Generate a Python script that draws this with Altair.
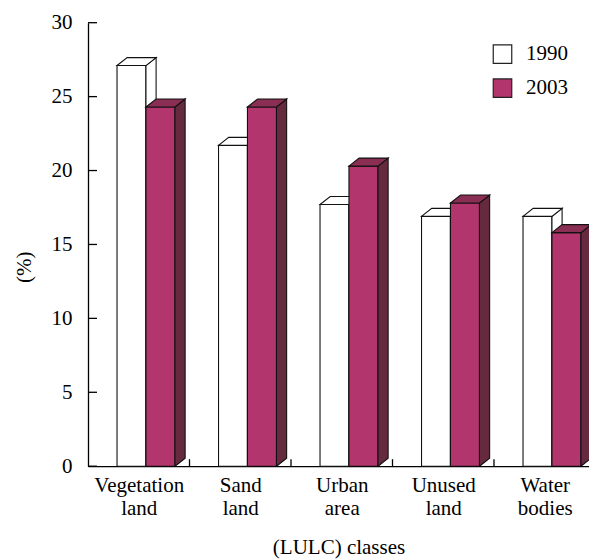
import altair as alt
import pandas as pd

# Land-use / land-cover shares by class, two survey years
categories = ["Vegetation land", "Sand land", "Urban area", "Unused land", "Water bodies"]
years = ["1990", "2003"]
share_1990 = [27.1, 21.7, 17.7, 16.9, 16.9]
share_2003 = [24.3, 24.3, 20.3, 17.8, 15.8]
y_ticks = [0, 5, 10, 15, 20, 25, 30]
slot_bounds = [0.5, 1.5, 2.5, 3.5]

front_colors = ["#ffffff", "#b3356d"]
side_colors = ["#ffffff", "#662a3e"]
top_colors = ["#ffffff", "#8b2e53"]

# bar footprint inside each category slot, in category units
bar_edges = [(-0.214, 0.071), (0.071, 0.357)]
DEPTH_X = 0.1    # receding depth, category units
DEPTH_Y = 0.54   # receding depth, percentage units

W, H = 501, 443.5
FONT = "'Liberation Serif', 'Times New Roman', 'DejaVu Serif', serif"

x_scale = alt.Scale(domain=[-0.5, 4.436], nice=False, zero=False)
y_scale = alt.Scale(domain=[0, 30], nice=False)

label_list = ",".join(f"'{c}'" for c in categories)
x_axis = alt.Axis(
    values=list(range(len(categories))),
    labelExpr=f"split([{label_list}][round(datum.value)], ' ')",
    title="(LULC) classes", titleY=81, titleBaseline="middle",
    ticks=False, tickSize=0, grid=False, labelPadding=8,
    labelLineHeight=23, labelBaseline="top",
)
y_axis = alt.Axis(
    values=y_ticks, title="(%)", ticks=False, tickSize=0, grid=False,
    labelPadding=16, titleX=-64, titleY=244, titleAngle=-90,
    titleAlign="center", titleBaseline="middle",
)


def xq(field):
    return alt.X(field, scale=x_scale, axis=x_axis)


def yq(field):
    return alt.Y(field, scale=y_scale, axis=y_axis)


legend = alt.Legend(
    title=None, orient="none", legendX=404, legendY=21,
    symbolType="square", symbolSize=342,
    symbolStrokeColor="#222222", symbolStrokeWidth=1.2,
    labelFontSize=21, labelFont=FONT, labelColor="black",
    labelOffset=13, rowPadding=9, padding=0,
)

layers = []
for yi, (year, values) in enumerate(zip(years, [share_1990, share_2003])):
    front, side, top = [], [], []
    for ci, (cat, v) in enumerate(zip(categories, values)):
        xl = ci + bar_edges[yi][0]
        xr = ci + bar_edges[yi][1]
        front.append(dict(year=year, cat=cat, x=xl, x2=xr, value=v, base=0))
        side += [
            dict(bar=ci, x=xr, lo=0, hi=v),
            dict(bar=ci, x=xr + DEPTH_X, lo=DEPTH_Y, hi=v + DEPTH_Y),
        ]
        top += [
            dict(bar=ci, x=xl, lo=v, hi=v),
            dict(bar=ci, x=xl + DEPTH_X, lo=v, hi=v + DEPTH_Y),
            dict(bar=ci, x=xr, lo=v, hi=v + DEPTH_Y),
            dict(bar=ci, x=xr + DEPTH_X, lo=v + DEPTH_Y, hi=v + DEPTH_Y),
        ]

    front_layer = alt.Chart(pd.DataFrame(front)).mark_rect(
        stroke="#111111", strokeWidth=1.1, clip=True
    ).encode(
        x=xq("x:Q"), x2="x2:Q",
        y=yq("value:Q"), y2="base:Q",
        fill=alt.Fill(
            "year:N",
            scale=alt.Scale(domain=years, range=front_colors),
            legend=legend,
        ),
    )
    side_layer = alt.Chart(pd.DataFrame(side)).mark_area(
        fill=side_colors[yi], stroke="#111111", strokeWidth=1.1, clip=True
    ).encode(x=xq("x:Q"), y=yq("lo:Q"), y2="hi:Q", detail="bar:N")
    top_layer = alt.Chart(pd.DataFrame(top)).mark_area(
        fill=top_colors[yi], stroke="#111111", strokeWidth=1.1, clip=True
    ).encode(x=xq("x:Q"), y=yq("lo:Q"), y2="hi:Q", detail="bar:N")
    layers += [front_layer, side_layer, top_layer]

# inward-pointing tick marks on both axes
y_tick_layer = alt.Chart(pd.DataFrame({"t": y_ticks})).mark_rule(
    color="black", strokeWidth=1.3
).encode(y=yq("t:Q"), x=alt.value(0), x2=alt.value(9))

x_tick_layer = alt.Chart(pd.DataFrame({"b": slot_bounds})).mark_rule(
    color="black", strokeWidth=1.3
).encode(x=xq("b:Q"), y=alt.value(H), y2=alt.value(H - 7))

chart = alt.layer(*layers, y_tick_layer, x_tick_layer).properties(
    width=W, height=H,
    padding={"left": 88, "top": 22.7, "right": 0, "bottom": 93.8},
    autosize="none",
).configure(
    font=FONT
).configure_view(
    strokeWidth=0
).configure_axis(
    domainColor="black", domainWidth=1.3,
    labelFont=FONT, labelFontSize=21, labelColor="black",
    titleFont=FONT, titleFontSize=21, titleColor="black", titleFontWeight="normal",
)

chart.save("out.html", embed_options={"renderer": "svg", "actions": False})
